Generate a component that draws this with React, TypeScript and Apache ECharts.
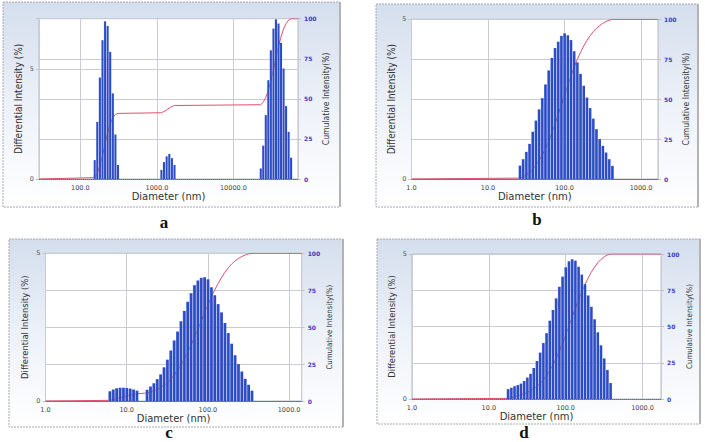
import React, { useEffect, useRef } from 'react';
import * as echarts from 'echarts';

// ---------- Panel a ----------
const aDiameter = [
  153.5, 166.0, 179.5, 194.1, 209.9, 226.5, 244.9, 264.9, 286.4, 309.7,
  1143, 1236, 1337, 1449, 1567, 1694,
  22700, 24490, 26420, 28510, 30760, 33270, 35890, 38730, 41780, 45080, 48640, 52480, 56620,
];
const aDifferential = [
  0.86, 2.6, 4.62, 6.32, 7.18, 6.97, 5.79, 3.9, 2.03, 0.64,
  0.41, 0.77, 1.03, 1.14, 0.95, 0.64,
  0.48, 1.52, 2.91, 4.5, 5.86, 6.85, 7.27, 7.08, 6.2, 5.03, 3.32, 2.15, 0.97,
];

// ---------- Panel b ----------
const bDiameter = [
  26.1, 28.73, 31.62, 34.81, 38.31, 42.17, 46.42, 51.09, 56.23, 61.9,
  68.13, 74.99, 82.54, 90.85, 100.0, 110.07, 121.15, 133.35, 146.78, 161.56,
  177.83, 195.73, 215.44, 237.14, 261.02, 287.3, 316.23, 348.07, 383.12, 421.7,
];
const bDifferential = [
  0.42, 0.62, 0.85, 1.1, 1.48, 1.83, 2.18, 2.53, 2.96, 3.4,
  3.79, 4.1, 4.3, 4.48, 4.56, 4.5, 4.35, 4.0, 3.65, 3.29,
  2.92, 2.55, 2.22, 1.89, 1.56, 1.25, 1.04, 0.83, 0.62, 0.41,
];

// ---------- Panel c ----------
const cDiameter = [
  6.19, 6.813, 7.499, 8.254, 9.085, 10.0, 11.007, 12.115, 13.335,
  17.78, 19.57, 21.54, 23.71, 26.1, 28.73, 31.62, 34.81, 38.31, 42.17,
  46.42, 51.09, 56.23, 61.9, 68.13, 74.99, 82.54, 90.85, 100.0, 110.07,
  121.15, 133.35, 146.78, 161.56, 177.83, 195.73, 215.44, 237.14, 261.02, 287.3,
  316.23, 348.07,
];
const cDifferential = [
  0.33, 0.39, 0.43, 0.45, 0.45, 0.44, 0.42, 0.39, 0.35,
  0.38, 0.49, 0.6, 0.74, 0.9, 1.14, 1.4, 1.71, 2.05, 2.35,
  2.7, 3.05, 3.36, 3.65, 3.92, 4.08, 4.17, 4.19, 4.12, 3.85,
  3.58, 3.28, 3.0, 2.64, 2.3, 1.94, 1.55, 1.25, 1.0, 0.75,
  0.55, 0.35,
];

// ---------- Panel d ----------
const dDiameter = [
  17.78, 19.57, 21.54, 23.71, 26.1, 28.73, 31.62, 34.81, 38.31, 42.17,
  46.42, 51.09, 56.23, 61.9, 68.13, 74.99, 82.54, 90.85, 100.0, 110.07,
  121.15, 133.35, 146.78, 161.56, 177.83, 195.73, 215.44, 237.14, 261.02, 287.3,
  316.23, 348.07, 383.12,
];
const dDifferential = [
  0.34, 0.39, 0.44, 0.48, 0.53, 0.62, 0.74, 0.87, 1.07, 1.31,
  1.6, 1.93, 2.27, 2.7, 3.07, 3.47, 3.87, 4.22, 4.54, 4.75,
  4.82, 4.77, 4.56, 4.29, 3.96, 3.57, 3.18, 2.75, 2.3, 1.85,
  1.4, 1.0, 0.55,
];

// axis ranges (nm) and tick labels
const xRanges = [
  [28.8, 69800],
  [1, 1667],
  [1, 1429],
  [1, 1740],
];
const leftMax = [7.3, 5, 5, 5];
const leftTicks = [0, 5];
const rightTicks = [0, 25, 50, 75, 100];
const panelLetters = ['a', 'b', 'c', 'd'];
const xTitle = 'Diameter (nm)';
const leftTitle = 'Differential Intensity (%)';
const rightTitle = 'Cumulative Intensity(%)';

const dataSets = [
  { diam: aDiameter, diff: aDifferential },
  { diam: bDiameter, diff: bDifferential },
  { diam: cDiameter, diff: cDifferential },
  { diam: dDiameter, diff: dDifferential },
];

// layout (pixels)
const layouts = [
  { left: 39, top: 18.7, width: 259, height: 160.3, barWidth: 2.2, nameL: 10, nameR: 8.5, gapL: 16, gapR: 23.5, gapX: 11,
    frame: [3, 2, 337, 205], letter: [164, 222] },
  { left: 411.5, top: 19.3, width: 246.5, height: 159.7, barWidth: 2.75, nameL: 10, nameR: 8.5, gapL: 15, gapR: 23.5, gapX: 10,
    frame: [376, 4, 322, 203], letter: [537, 219] },
  { left: 45.5, top: 253.3, width: 256.2, height: 147.7, barWidth: 2.95, nameL: 9.4, nameR: 7.8, gapL: 17, gapR: 24, gapX: 10,
    frame: [9, 239, 334, 188], letter: [169, 432] },
  { left: 412, top: 254, width: 249, height: 145, barWidth: 2.75, nameL: 9.3, nameR: 7.8, gapL: 16, gapR: 24, gapX: 9.5,
    frame: [377, 239, 323, 185], letter: [524, 432] },
];

function cumulative(diam: number[], diff: number[], xMin: number, xMax: number) {
  const total = diff.reduce((s, v) => s + v, 0);
  let run = 0;
  const pts: number[][] = [[xMin, 0]];
  diam.forEach((d, i) => {
    run += diff[i];
    pts.push([d, (run / total) * 100]);
  });
  pts.push([xMax, 100]);
  return pts;
}

function isPow10(v: number) {
  const l = Math.log10(v);
  return Math.abs(l - Math.round(l)) < 1e-6;
}

const FONT = '"DejaVu Sans", Verdana, sans-serif';
const NARROW = '"Liberation Sans Narrow", "DejaVu Sans Condensed", "Liberation Sans", sans-serif';
const GRID_LINE = '#c9ccd4';

function buildOption() {
  const grid: any[] = [];
  const xAxis: any[] = [];
  const yAxis: any[] = [];
  const series: any[] = [];
  const graphic: any[] = [];

  layouts.forEach((p, i) => {
    const [xMin, xMax] = xRanges[i];
    const ds = dataSets[i];
    grid.push({
      left: p.left, top: p.top, width: p.width, height: p.height,
      show: true, backgroundColor: '#ffffff', borderColor: '#b9bcc5', borderWidth: 1,
      containLabel: false, outerBoundsMode: 'none',
    });
    xAxis.push({
      type: 'log', logBase: 10, gridIndex: i, min: xMin, max: xMax,
      name: xTitle, nameLocation: 'middle', nameGap: p.gapX,
      nameTextStyle: { fontSize: 10, fontFamily: FONT, color: '#333' },
      axisLine: { show: true, onZero: false, lineStyle: { color: '#5563d6', type: 'dotted', width: 1 } },
      axisTick: { show: false },
      axisLabel: {
        formatter: (v: number) => (isPow10(v) ? v.toFixed(1) : ''),
        fontSize: 6.5, color: '#444', fontFamily: FONT, margin: 5,
        showMinLabel: true, showMaxLabel: true,
      },
      splitLine: { show: true, lineStyle: { color: GRID_LINE, width: 1 } },
    });
    yAxis.push({
      type: 'value', gridIndex: i, position: 'left', min: 0, max: leftMax[i], interval: 5,
      name: leftTitle, nameLocation: 'middle', nameRotate: 90, nameGap: p.gapL,
      nameTextStyle: { fontSize: p.nameL, fontFamily: NARROW, color: '#333' },
      axisLine: { show: false },
      axisTick: { show: true, length: 3, lineStyle: { color: '#bfc2ca' } },
      axisLabel: {
        formatter: (v: number) => (leftTicks.includes(v) ? String(v) : ''),
        fontSize: 6.5, color: '#555', fontFamily: FONT, margin: 5,
      },
      splitLine: { show: true, lineStyle: { color: GRID_LINE, width: 1 } },
    });
    yAxis.push({
      type: 'value', gridIndex: i, position: 'right', min: 0, max: 100, interval: 25,
      name: rightTitle, nameLocation: 'middle', nameRotate: 90, nameGap: p.gapR,
      nameTextStyle: { fontSize: p.nameR, fontFamily: NARROW, color: '#333' },
      axisLine: { show: false },
      axisTick: { show: true, length: 3, lineStyle: { color: '#bfc2ca' } },
      axisLabel: {
        formatter: (v: number) => (rightTicks.includes(v) ? String(v) : ''),
        fontSize: 6, fontWeight: 'bold', color: '#3b3bc4', fontFamily: FONT, margin: 6,
      },
      splitLine: { show: true, lineStyle: { color: GRID_LINE, width: 1 } },
    });
    series.push({
      type: 'line', xAxisIndex: i, yAxisIndex: 2 * i + 1,
      data: cumulative(ds.diam, ds.diff, xMin, xMax),
      showSymbol: false, symbol: 'none',
      lineStyle: { color: '#e0506f', width: 1 },
      z: 2, silent: true,
    });
    series.push({
      type: 'bar', xAxisIndex: i, yAxisIndex: 2 * i,
      data: ds.diam.map((d, j) => [d, ds.diff[j]]),
      barWidth: p.barWidth,
      itemStyle: {
        color: {
          type: 'linear', x: 0, y: 0, x2: 1, y2: 0,
          colorStops: [
            { offset: 0, color: '#7088e2' },
            { offset: 0.3, color: '#3050c6' },
            { offset: 1, color: '#2a46bc' },
          ],
        },
      },
      z: 3, silent: true,
    });

    const [fx, fy, fw, fh] = p.frame;
    graphic.push({
      type: 'rect', z: -10,
      shape: { x: fx, y: fy, width: fw, height: fh },
      style: {
        fill: {
          type: 'linear', x: 0, y: 0, x2: 0, y2: 1,
          colorStops: [
            { offset: 0, color: '#d4deed' },
            { offset: 0.5, color: '#edf1f8' },
            { offset: 1, color: '#ffffff' },
          ],
        },
        stroke: '#a4a8b0', lineWidth: 1, lineDash: [2, 1],
      },
    });
    graphic.push({
      type: 'line', z: -9,
      shape: { x1: fx + fw, y1: fy, x2: fx + fw, y2: fy + fh },
      style: { stroke: '#b3b3b3', lineWidth: 2 },
    });
    graphic.push({
      type: 'text', z: 10, x: p.letter[0], y: p.letter[1],
      style: {
        text: panelLetters[i], fontSize: 17, fontWeight: 'bold',
        fontFamily: '"Liberation Serif", "Times New Roman", serif',
        fill: '#111', align: 'center', verticalAlign: 'middle',
      },
    });
  });

  return {
    animation: false,
    backgroundColor: '#ffffff',
    textStyle: { fontFamily: FONT },
    grid, xAxis, yAxis, series, graphic,
  };
}

export default function App() {
  const ref = useRef<HTMLDivElement>(null);
  useEffect(() => {
    document.body.style.margin = '0';
    const chart = echarts.init(ref.current as HTMLDivElement, null, { renderer: 'svg' });
    chart.setOption(buildOption() as any);
    return () => chart.dispose();
  }, []);
  return <div ref={ref} style={{ width: 705, height: 442, overflow: 'hidden' }} />;
}
